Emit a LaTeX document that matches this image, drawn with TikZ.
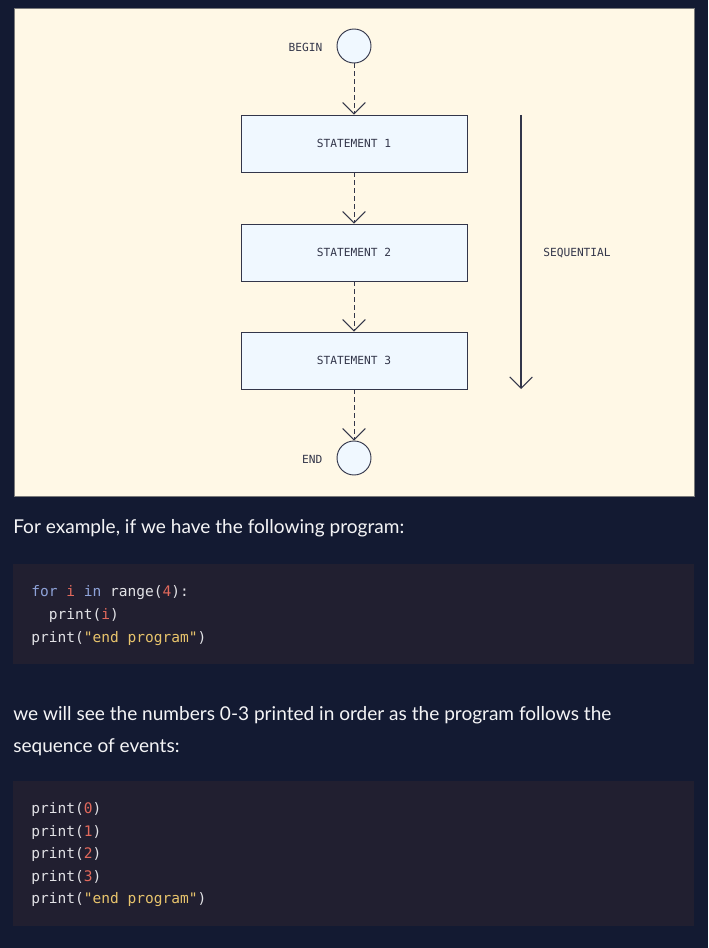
\documentclass[tikz,border=0pt]{standalone}
\usepackage{fontspec}
\setmainfont{Lato}
\newfontfamily\codefont{DejaVu Sans Mono}
\usepackage{tikz}
\usetikzlibrary{arrows.meta}
\definecolor{page}{HTML}{131A32}
\definecolor{panel}{HTML}{FFF8E6}
\definecolor{panelline}{HTML}{7A7A7A}
\definecolor{boxfill}{HTML}{F0F8FF}
\definecolor{ink}{HTML}{33364A}
\definecolor{codebg}{HTML}{211F30}
\definecolor{codetext}{HTML}{E2E2E6}
\definecolor{kw}{HTML}{8EA2D8}
\definecolor{num}{HTML}{E2695C}
\definecolor{str}{HTML}{E8C46C}
\definecolor{prose}{HTML}{F4F4F6}
\tikzset{
  stmt/.style={draw=ink, line width=0.7pt, fill=boxfill, minimum width=169.5pt, minimum height=42.75pt, inner sep=0pt},
  term/.style={draw=ink, line width=0.7pt, fill=boxfill, circle, minimum size=25.5pt, inner sep=0pt},
  lab/.style={text=ink, font=\codefont\fontsize{8.4}{10}\selectfont},
  flow/.style={draw=ink, line width=0.7pt, dash pattern=on 3.5pt off 2.5pt, -{Straight Barb[length=8.5pt,width=17pt]}},
  seq/.style={draw=ink, line width=0.8pt, -{Straight Barb[length=8.5pt,width=17pt]}},
  prosetext/.style={text=prose, font=\fontsize{14.3}{17}\selectfont, anchor=base west, inner sep=0pt},
  codeline/.style={text=codetext, font=\codefont\fontsize{10.9}{13}\selectfont, anchor=base west, inner sep=0pt}
}
\newcommand{\kw}[1]{\textcolor{kw}{#1}}
\newcommand{\nm}[1]{\textcolor{num}{#1}}
\newcommand{\st}[1]{\textcolor{str}{#1}}

\begin{document}
\begin{tikzpicture}[x=0.75pt, y=-0.75pt]
  \useasboundingbox (0,0) rectangle (708,948);
  \fill[page] (0,0) rectangle (708,948);

  % diagram panel
  \draw[panelline, fill=panel, line width=0.5pt] (14,8) rectangle (694,496);

  \node[term] (start) at (354,46) {};
  \node[stmt] (s1) at (354,143.5) {};
  \node[stmt] (s2) at (354,252.5) {};
  \node[stmt] (s3) at (354,360.5) {};
  \node[term] (stop) at (354,458) {};

  \node[lab, anchor=east] (beginlab) at (327,47) {BEGIN};
  \node[lab, anchor=east] (endlab) at (327,459) {END};
  \node[lab] (t1) at (s1) {STATEMENT 1};
  \node[lab] (t2) at (s2) {STATEMENT 2};
  \node[lab] (t3) at (s3) {STATEMENT 3};

  \draw[flow] (start) -- (s1);
  \draw[flow] (s1) -- (s2);
  \draw[flow] (s2) -- (s3);
  \draw[flow] (s3) -- (stop);

  \coordinate (seqtop) at (521,115);
  \coordinate (seqbot) at (521,389);
  \draw[seq] (seqtop) -- (seqbot);
  \node[lab] (seqlab) at (577,253) {SEQUENTIAL};

  % text and code
  \node[prosetext] (p1) at (13,533) {For example, if we have the following program:};

  \fill[codebg] (13,564) rectangle (694,664);
  \node[codeline] (c1) at (31,596) {\kw{for} \nm{i} \kw{in} range(\nm{4}):};
  \node[codeline] (c2) at (48.6,619) {print(\nm{i})};
  \node[codeline] (c3) at (31,642) {print(\st{"end program"})};

  \node[prosetext] (p2) at (13,720) {we will see the numbers 0-3 printed in order as the program follows the};
  \node[prosetext] (p3) at (13,752) {sequence of events:};

  \fill[codebg] (13,781) rectangle (694,926);
  \node[codeline] (d1) at (31,813) {print(\nm{0})};
  \node[codeline] (d2) at (31,836) {print(\nm{1})};
  \node[codeline] (d3) at (31,858) {print(\nm{2})};
  \node[codeline] (d4) at (31,881) {print(\nm{3})};
  \node[codeline] (d5) at (31,903) {print(\st{"end program"})};
\end{tikzpicture}
\end{document}
